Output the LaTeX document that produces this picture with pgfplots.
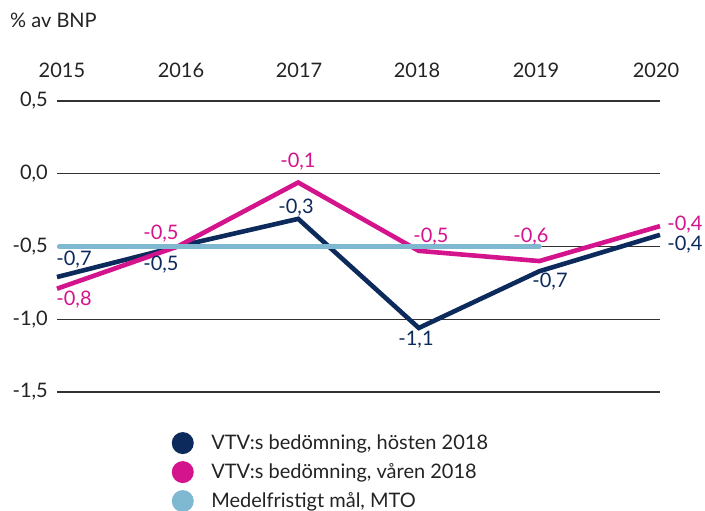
\documentclass[border=0pt]{standalone}
\usepackage{fontspec}
\setmainfont{Lato}
\usepackage{pgfplots}
\pgfplotsset{compat=1.18}
\definecolor{navy}{RGB}{12,42,92}
\definecolor{mag}{RGB}{212,20,140}
\definecolor{lblue}{RGB}{127,184,209}
\definecolor{txt}{RGB}{35,35,35}
\definecolor{gridc}{RGB}{50,50,50}
\begin{document}
\fontsize{20pt}{24pt}\selectfont
\begin{tikzpicture}
\useasboundingbox (0pt,0pt) rectangle (705pt,-511pt);
\node[anchor=base west, inner sep=0pt, text=txt] at (10pt,-28pt) {\% av BNP};
\begin{axis}[
  at={(57pt,-392pt)}, anchor=south west,
  scale only axis, width=603pt, height=291pt,
  xmin=2015, xmax=2020, ymin=-1.5, ymax=0.5,
  clip=false,
  axis line style={draw=none},
  major tick length=0pt,
  xtick={2015.041,2016.028,2017.007,2017.985,2018.972,2019.967},
  xticklabels={2015,2016,2017,2018,2019,2020},
  xticklabel pos=right,
  x tick label style={anchor=base, inner sep=0pt, yshift=24pt, text=txt},
  ytick={-1.5,-1,-0.5,0,0.5},
  ytick pos=left,
  y tick label style={anchor=east, inner sep=0pt, xshift=-9pt, text=txt},
  /pgf/number format/assume math mode=true,
  yticklabel style={/pgf/number format/.cd, fixed, fixed zerofill, precision=1, use comma},
  ymajorgrids,
  grid style={gridc, line width=1.1pt},
  tick label style={font=\fontsize{20pt}{24pt}\selectfont},
  legend cell align=left,
  legend style={draw=none, fill=none, at={(0.19,-0.137)}, anchor=north west,
    inner sep=0pt, row sep=7pt, font=\fontsize{20pt}{24pt}\selectfont, text=txt,
    nodes={inner sep=0pt, anchor=base west}},
  legend image code/.code={\fill[#1, draw=none] (8pt,6pt) circle (11pt); \path (0pt,0pt) (34pt,0pt);},
]
\addplot[navy, line width=4.6pt, line join=miter] coordinates {
(2015,-0.71) (2016,-0.50) (2017,-0.31) (2018,-1.06) (2019,-0.67) (2020,-0.42)};
\addlegendentry{VTV:s bedömning, hösten 2018}
\addplot[mag, line width=4.6pt, line join=miter] coordinates {
(2015,-0.79) (2016,-0.50) (2017,-0.06) (2018,-0.53) (2019,-0.60) (2020,-0.36)};
\addlegendentry{VTV:s bedömning, våren 2018}
\addplot[lblue, line width=5pt, line cap=round] coordinates {(2015.02,-0.5) (2019,-0.5)};
\addlegendentry{Medelfristigt mål, MTO}
\begin{scope}[every node/.style={inner sep=0pt, font=\fontsize{20pt}{24pt}\selectfont}]
\node[navy] at (axis cs:2015.141,-0.591) {-0,7};
\node[navy] at (axis cs:2015.862,-0.625) {-0,5};
\node[navy] at (axis cs:2016.982,-0.234) {-0,3};
\node[navy] at (axis cs:2017.977,-1.141) {-1,1};
\node[navy] at (axis cs:2019.088,-0.742) {-0,7};
\node[navy] at (axis cs:2020.207,-0.488) {-0,4};
\node[mag] at (axis cs:2015.141,-0.866) {-0,8};
\node[mag] at (axis cs:2015.862,-0.412) {-0,5};
\node[mag] at (axis cs:2016.998,0.086) {-0,1};
\node[mag] at (axis cs:2018.101,-0.433) {-0,5};
\node[mag] at (axis cs:2018.930,-0.433) {-0,6};
\node[mag] at (axis cs:2020.207,-0.350) {-0,4};
\end{scope}
\end{axis}
\end{tikzpicture}
\end{document}
